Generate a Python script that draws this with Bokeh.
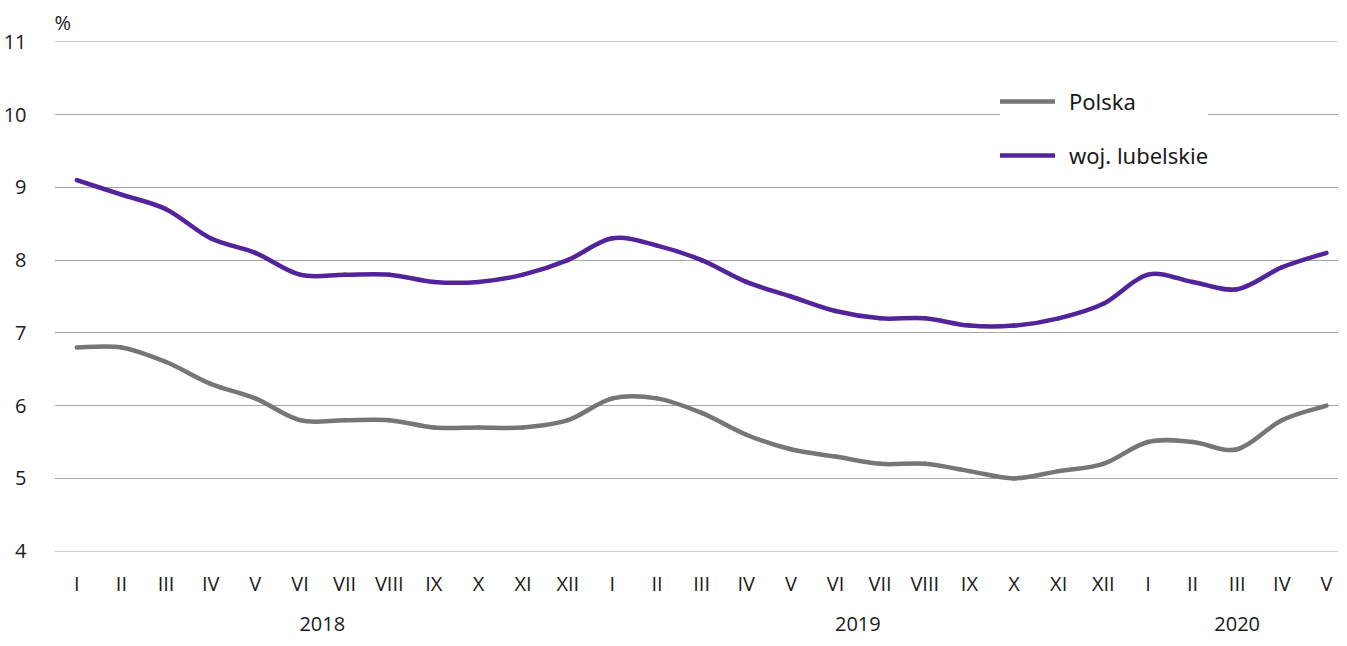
import numpy as np
from bokeh.plotting import figure
from bokeh.models import (FixedTicker, LinearAxis, Range1d, Legend, LegendItem)
from bokeh.embed import file_html
from bokeh.resources import INLINE

months = ["I", "II", "III", "IV", "V", "VI", "VII", "VIII", "IX", "X", "XI", "XII",
          "I", "II", "III", "IV", "V", "VI", "VII", "VIII", "IX", "X", "XI", "XII",
          "I", "II", "III", "IV", "V"]
years = ["2018", "2019", "2020"]
year_centers = [5.5, 17.5, 26.0]

polska = [6.8, 6.8, 6.6, 6.3, 6.1, 5.8, 5.8, 5.8, 5.7, 5.7, 5.7, 5.8,
          6.1, 6.1, 5.9, 5.6, 5.4, 5.3, 5.2, 5.2, 5.1, 5.0, 5.1, 5.2,
          5.5, 5.5, 5.4, 5.8, 6.0]
lubelskie = [9.1, 8.9, 8.7, 8.3, 8.1, 7.8, 7.8, 7.8, 7.7, 7.7, 7.8, 8.0,
             8.3, 8.2, 8.0, 7.7, 7.5, 7.3, 7.2, 7.2, 7.1, 7.1, 7.2, 7.4,
             7.8, 7.7, 7.6, 7.9, 8.1]
y_ticks = [4, 5, 6, 7, 8, 9, 10, 11]

FONT = "Open Sans"
TXT = "#1a1a1a"

p = figure(frame_width=1284, frame_height=510, output_backend="svg", toolbar_location=None,
           x_range=Range1d(-0.5, 28.27), y_range=Range1d(3.995, 11.005),
           min_border_left=0, min_border_right=0, min_border_top=0, min_border_bottom=0,
           x_axis_location=None)
p.outline_line_color = None
p.background_fill_color = "white"

# grid
p.xgrid.grid_line_color = None
p.ygrid.ticker = FixedTicker(ticks=y_ticks)
p.ygrid.grid_line_color = "#a6a6a6"
p.ygrid.grid_line_width = 1.2

# y axis
ya = p.yaxis[0]
ya.ticker = FixedTicker(ticks=y_ticks)
ya.axis_line_color = None
ya.major_tick_line_color = None
ya.major_tick_out = 0
ya.major_tick_in = 0
ya.minor_tick_line_color = None
ya.major_label_text_font = FONT
ya.major_label_text_font_size = "20px"
ya.major_label_text_color = TXT
ya.major_label_standoff = 28

# month axis
xa = LinearAxis(ticker=FixedTicker(ticks=list(range(len(months)))),
                major_label_overrides={i: m for i, m in enumerate(months)})
xa.axis_line_color = None
xa.major_tick_line_color = None
xa.major_tick_out = 0
xa.major_tick_in = 0
xa.minor_tick_line_color = None
xa.major_label_text_font = FONT
xa.major_label_text_font_size = "20px"
xa.major_label_text_color = TXT
xa.major_label_standoff = 18
p.add_layout(xa, "below")

# year axis
xa2 = LinearAxis(ticker=FixedTicker(ticks=year_centers),
                 major_label_overrides={c: y for c, y in zip(year_centers, years)})
xa2.axis_line_color = None
xa2.major_tick_line_color = None
xa2.major_tick_out = 0
xa2.major_tick_in = 0
xa2.minor_tick_line_color = None
xa2.major_label_text_font = FONT
xa2.major_label_text_font_size = "20px"
xa2.major_label_text_color = TXT
xa2.major_label_standoff = 17
xa2.axis_label = " "
xa2.axis_label_text_font_size = "8px"
xa2.axis_label_standoff = 0
p.add_layout(xa2, "below")

# title "%"
p.title.text = "%"
p.title.align = "left"
p.title.text_font = FONT
p.title.text_font_size = "20px"
p.title.text_font_style = "normal"
p.title.text_color = TXT
p.title.offset = 0
p.title.standoff = 12


def smooth_segments(vals):
    x = np.arange(len(vals), dtype=float)
    y = np.asarray(vals, dtype=float)
    xp = np.concatenate([[x[0]], x, [x[-1]]])
    yp = np.concatenate([[y[0]], y, [y[-1]]])
    n = len(vals) - 1
    x0 = x[:-1]; y0 = y[:-1]; x1 = x[1:]; y1 = y[1:]
    cx0 = x0 + (xp[2:n + 2] - xp[0:n]) / 6.0
    cy0 = y0 + (yp[2:n + 2] - yp[0:n]) / 6.0
    cx1 = x1 - (xp[3:n + 3] - xp[1:n + 1]) / 6.0
    cy1 = y1 - (yp[3:n + 3] - yp[1:n + 1]) / 6.0
    return dict(x0=x0, y0=y0, x1=x1, y1=y1, cx0=cx0, cy0=cy0, cx1=cx1, cy1=cy1)


GREY = "#767676"
PURPLE = "#52239a"

r1 = p.bezier(line_color=GREY, line_width=4.5, line_cap="round", **smooth_segments(polska))
r2 = p.bezier(line_color=PURPLE, line_width=4.5, line_cap="round", **smooth_segments(lubelskie))

legend = Legend(items=[LegendItem(label="Polska", renderers=[r1]),
                       LegendItem(label="woj. lubelskie", renderers=[r2])],
                location=(946, 381))
legend.border_line_color = None
legend.background_fill_color = "white"
legend.background_fill_alpha = 1.0
legend.label_text_font = "Noto Sans"
legend.label_text_font_size = "22px"
legend.label_text_color = TXT
legend.glyph_width = 55
legend.glyph_height = 30
legend.label_height = 30
legend.label_standoff = 14
legend.spacing = 24
legend.padding = 10
legend.margin = 0
p.add_layout(legend)

open("out.html", "w").write(file_html(p, INLINE))
